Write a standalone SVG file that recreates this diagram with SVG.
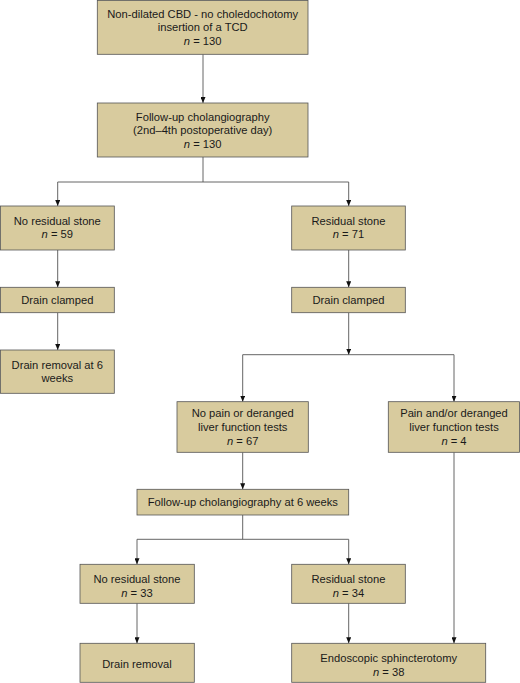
<svg xmlns="http://www.w3.org/2000/svg" width="520" height="683" viewBox="0 0 520 683">
<defs>
<marker id="ah" markerWidth="6" markerHeight="5" refX="6" refY="2.5" orient="auto" markerUnits="userSpaceOnUse">
<path d="M0,0 L6,2.5 L0,5 Z" fill="#111"/>
</marker>
<style>
.box{fill:#d8cb9e;stroke:#555;stroke-width:0.8}
.t{font-family:"Liberation Sans",Arial,sans-serif;font-size:11.2px;fill:#1a1a1a;text-anchor:middle}
.c{fill:none;stroke:#555;stroke-width:0.9}
.a{marker-end:url(#ah)}
</style>
</defs>
<rect width="520" height="683" fill="#fff"/>
<g id="connectors">
<path class="c a" d="M203,54.3 V103"/>
<path class="c" d="M203,157 V182 M57.7,182 H348.7"/>
<path class="c a" d="M57.7,182 V206"/>
<path class="c a" d="M348.7,182 V206"/>
<path class="c a" d="M57.7,250 V287.3"/>
<path class="c a" d="M348.7,250 V287.3"/>
<path class="c a" d="M57.7,312.7 V350"/>
<path class="c a" d="M348.7,312.7 V354.7"/>
<path class="c" d="M242.7,354.7 H454"/>
<path class="c a" d="M242.7,354.7 V401.7"/>
<path class="c a" d="M454,354.7 V401.7"/>
<path class="c a" d="M242.7,452.3 V489.3"/>
<path class="c" d="M242.7,515 V539.3 M137,539.3 H348.7"/>
<path class="c a" d="M137,539.3 V564.3"/>
<path class="c a" d="M348.7,539.3 V564.3"/>
<path class="c a" d="M137,603.3 V643.3"/>
<path class="c a" d="M348.7,603.3 V643.3"/>
<path class="c a" d="M454,452.3 V643.3"/>
</g>
<g id="n1">
<rect class="box" x="97.3" y="0.4" width="210.7" height="53.9"/>
<text class="t" x="202.7" y="18">Non-dilated CBD - no choledochotomy</text>
<text class="t" x="202.7" y="31.3">insertion of a TCD</text>
<text class="t" x="202.7" y="45.3"><tspan font-style="italic">n</tspan> = 130</text>
</g>
<g id="n2">
<rect class="box" x="97.3" y="103" width="210.7" height="54"/>
<text class="t" x="202.7" y="121">Follow-up cholangiography</text>
<text class="t" x="202.7" y="134.3">(2nd–4th postoperative day)</text>
<text class="t" x="202.7" y="148.3"><tspan font-style="italic">n</tspan> = 130</text>
</g>
<g id="n3">
<rect class="box" x="0.4" y="206" width="113.9" height="44"/>
<text class="t" x="57.3" y="225">No residual stone</text>
<text class="t" x="57.3" y="238.3"><tspan font-style="italic">n</tspan> = 59</text>
</g>
<g id="n4">
<rect class="box" x="291.7" y="206" width="113.6" height="44"/>
<text class="t" x="348.5" y="225">Residual stone</text>
<text class="t" x="348.5" y="238.3"><tspan font-style="italic">n</tspan> = 71</text>
</g>
<g id="n5">
<rect class="box" x="0.4" y="287.3" width="113.9" height="25.4"/>
<text class="t" x="57.3" y="304">Drain clamped</text>
</g>
<g id="n6">
<rect class="box" x="291.7" y="287.3" width="113.6" height="25.4"/>
<text class="t" x="348.5" y="304">Drain clamped</text>
</g>
<g id="n7">
<rect class="box" x="0.4" y="350" width="113.9" height="43.3"/>
<text class="t" x="57.3" y="369">Drain removal at 6</text>
<text class="t" x="57.3" y="381.7">weeks</text>
</g>
<g id="n8">
<rect class="box" x="177" y="401.7" width="131.3" height="50.6"/>
<text class="t" x="242.7" y="417.3">No pain or deranged</text>
<text class="t" x="242.7" y="430.7">liver function tests</text>
<text class="t" x="242.7" y="444.7"><tspan font-style="italic">n</tspan> = 67</text>
</g>
<g id="n9">
<rect class="box" x="388.3" y="401.7" width="131.2" height="50.6"/>
<text class="t" x="454" y="417.3">Pain and/or deranged</text>
<text class="t" x="454" y="430.7">liver function tests</text>
<text class="t" x="454" y="444.7"><tspan font-style="italic">n</tspan> = 4</text>
</g>
<g id="n10">
<rect class="box" x="137" y="489.3" width="211.7" height="25.7"/>
<text class="t" x="242.8" y="506.3">Follow-up cholangiography at 6 weeks</text>
</g>
<g id="n11">
<rect class="box" x="80" y="564.3" width="114.3" height="39"/>
<text class="t" x="137" y="582.7">No residual stone</text>
<text class="t" x="137" y="596.7"><tspan font-style="italic">n</tspan> = 33</text>
</g>
<g id="n12">
<rect class="box" x="291.7" y="564.3" width="113.6" height="39"/>
<text class="t" x="348.5" y="582.7">Residual stone</text>
<text class="t" x="348.5" y="596.7"><tspan font-style="italic">n</tspan> = 34</text>
</g>
<g id="n13">
<rect class="box" x="80" y="643.3" width="114.3" height="39"/>
<text class="t" x="137" y="668.3">Drain removal</text>
</g>
<g id="n14">
<rect class="box" x="291.7" y="643.3" width="194" height="39"/>
<text class="t" x="388.7" y="662.3">Endoscopic sphincterotomy</text>
<text class="t" x="388.7" y="675.7"><tspan font-style="italic">n</tspan> = 38</text>
</g>
</svg>
